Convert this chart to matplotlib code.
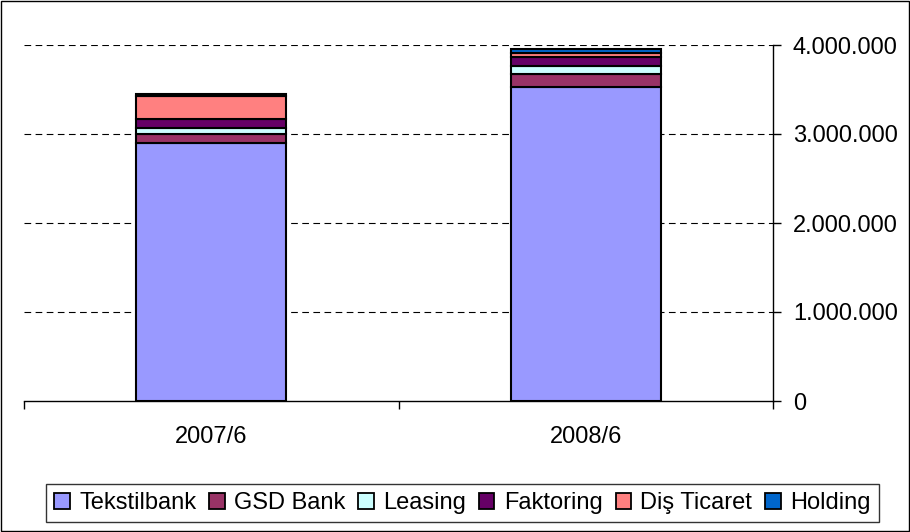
import matplotlib.pyplot as plt
from matplotlib.patches import Rectangle
from matplotlib.ticker import FuncFormatter
import numpy as np

plt.rcParams['font.family'] = ['Liberation Sans', 'DejaVu Sans']

categories = ['2007/6', '2008/6']
series = ['Tekstilbank', 'GSD Bank', 'Leasing', 'Faktoring', 'Diş Ticaret', 'Holding']
values = {
    'Tekstilbank': [2900000, 3530000],
    'GSD Bank': [100000, 148000],
    'Leasing': [70000, 87000],
    'Faktoring': [100000, 105000],
    'Diş Ticaret': [260000, 40000],
    'Holding': [15000, 40000],
}
colors = ['#9999FF', '#993366', '#CCFFFF', '#660066', '#FF8080', '#0066CC']

fig = plt.figure(figsize=(9.1, 5.32), dpi=100)
ax = fig.add_axes([24/910, 1-401/532, (773-24)/910, (401-45)/532])

x = np.arange(len(categories))
bottom = np.zeros(len(categories))
for name, c in zip(series, colors):
    v = np.array(values[name], dtype=float)
    ax.bar(x, v, 0.4, bottom=bottom, color=c, edgecolor='black', linewidth=1.5, label=name, zorder=3)
    bottom += v

ax.set_xlim(-0.5, 1.5)
ax.set_ylim(0, 4000000)
ax.set_yticks([0, 1000000, 2000000, 3000000, 4000000])
ax.yaxis.set_major_formatter(FuncFormatter(lambda v, p: f'{int(v):,}'.replace(',', '.')))
ax.yaxis.tick_right()
ax.tick_params(axis='y', direction='out', length=5.8, width=1, labelsize=17, pad=8.5)
ax.set_xticks(x)
ax.set_xticklabels(categories)
ax.set_xticks([-0.5, 0.5, 1.5], minor=True)
ax.tick_params(axis='x', which='major', length=0, labelsize=17, pad=18)
ax.tick_params(axis='x', which='minor', direction='out', length=6, width=1)
for y in [1000000, 2000000, 3000000, 4000000]:
    ax.axhline(y, color='black', linestyle=(0, (6, 4)), linewidth=0.8, zorder=1)
ax.spines['top'].set_visible(False)
ax.spines['left'].set_visible(False)
ax.spines['right'].set_linewidth(1)
ax.spines['bottom'].set_linewidth(1)

handles, labels = ax.get_legend_handles_labels()
leg = fig.legend(handles, labels, loc='center', bbox_to_anchor=(462.5/910, 1-503/532), ncol=6,
                 fontsize=17, frameon=True, fancybox=False, edgecolor='black',
                 handlelength=0.65, handleheight=0.65, handletextpad=0.4, columnspacing=0.55,
                 borderpad=0.35, borderaxespad=0)
leg.get_frame().set_linewidth(1)
for h in leg.legend_handles:
    h.set_linewidth(1.3)

fig.patches.append(Rectangle((0.001, 0.001), 0.998, 0.998, transform=fig.transFigure,
                             fill=False, edgecolor='black', linewidth=1))

fig.savefig('out.png', dpi=100)
